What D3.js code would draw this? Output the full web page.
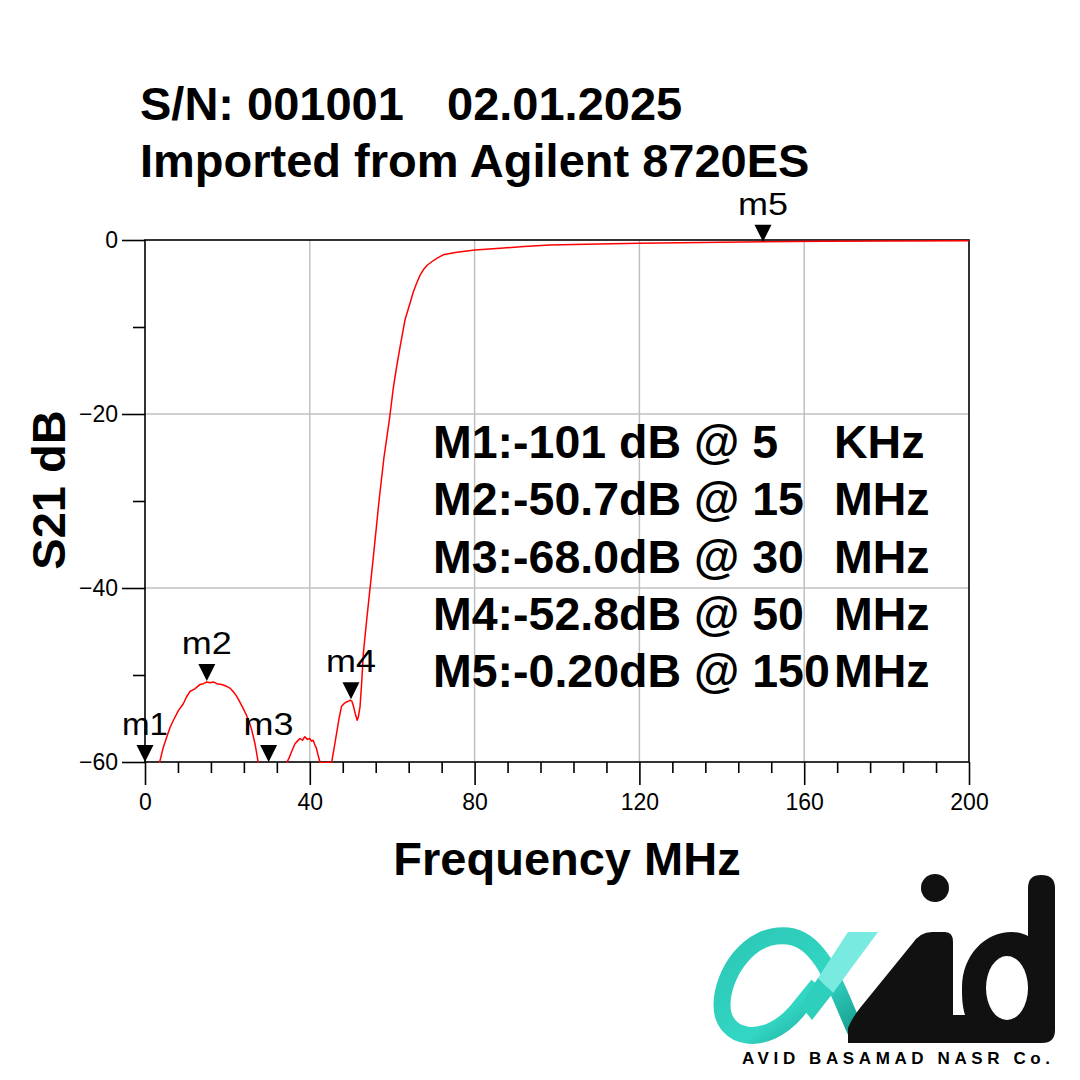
<!DOCTYPE html>
<html>
<head>
<meta charset="utf-8">
<script src="https://cdn.jsdelivr.net/npm/d3@7"></script>
<style>
  html, body { margin: 0; padding: 0; background: #fff; }
  svg { display: block; }
  text { font-family: "Liberation Sans", Arial, sans-serif; fill: #000; }
</style>
</head>
<body>
<svg id="chart" width="1080" height="1080"></svg>
<script>
// ---------- data ----------
const titleLine1 = ["S/N: 001001", "02.01.2025"];
const titleLine2 = "Imported from Agilent 8720ES";
const xLabel = "Frequency MHz";
const yLabel = "S21 dB";

const xMajorTicks = [0, 40, 80, 120, 160, 200];
const xMinorTicks = [8, 16, 24, 32, 48, 56, 64, 72, 88, 96, 104, 112, 128, 136, 144, 152, 168, 176, 184, 192];
const yMajorTicks = [0, -20, -40, -60];
const yMinorTicks = [-10, -30, -50];

const freqMHz = [0.005, 1, 2, 3, 3.5, 4.4, 5.3, 6.1, 6.9, 8.1, 9.3, 10.1, 10.9, 12.1, 13.3, 14.2, 15.0, 15.8, 16.6, 17.4,
  18.6, 19.8, 20.6, 21.4, 22.2, 23.0, 23.8, 24.6, 25.3, 25.9, 26.7, 27.5, 28.5, 30, 32, 33.5, 34.4, 35.0, 35.6, 36.4,
  37.0, 37.6, 38.2, 38.8, 39.4, 40.0, 40.4, 40.8, 41.2, 41.6, 42.0, 42.5, 43.5, 44.5, 45.3, 45.9, 46.5, 47.1, 47.7, 48.3,
  48.9, 49.4, 49.8, 50.2, 50.6, 51.0, 51.5, 51.8, 52.2, 52.6, 53.0, 53.8, 55.3, 56.8, 58.0, 59.3, 60.3, 61.1, 61.9, 63.1,
  64.3, 65.1, 65.9, 66.7, 67.6, 68.5, 69.6, 71.0, 72.4, 74.0, 75.7, 80.1, 86.2, 92, 98.3, 110, 120, 135, 150, 165, 180, 200];
const s21dB = [-101, -85, -72, -63, -60.1, -58.4, -57.1, -56.0, -55.2, -54.1, -53.3, -52.5, -51.9, -51.6, -51.1, -51.0, -50.8, -50.9, -50.8, -51.0,
  -51.1, -51.3, -51.5, -51.9, -52.4, -53.1, -53.8, -54.6, -55.4, -56.3, -57.9, -60.1, -63, -68, -65, -62, -60.1, -59.5, -58.8, -57.9,
  -57.6, -57.3, -57.5, -57.1, -57.4, -57.3, -57.6, -57.5, -58.0, -58.4, -59.2, -60.05, -60.05, -60.05, -60.05, -58.4, -56.7, -55.0, -53.6, -53.3,
  -53.1, -53.0, -52.9, -53.0, -53.6, -54.4, -55.2, -54.8, -53.6, -50.8, -47.5, -43.7, -37, -30, -25, -20.7, -16.9, -14.5, -12.3, -9.2,
  -7.3, -6.0, -5.0, -4.1, -3.4, -2.9, -2.5, -2.05, -1.7, -1.55, -1.4, -1.15, -0.95, -0.75, -0.57, -0.45, -0.38, -0.3, -0.2, -0.15, -0.12, -0.1];

const markerNames = ["m1", "m2", "m3", "m4", "m5"];
const markerFreq = [0.005, 15, 30, 50, 150];
const markerDB = [-101, -50.7, -68.0, -52.8, -0.20];

const noteLabels = ["M1:-101 dB @ 5", "M2:-50.7dB @ 15", "M3:-68.0dB @ 30", "M4:-52.8dB @ 50", "M5:-0.20dB @ 150"];
const noteUnits = ["KHz", "MHz", "MHz", "MHz", "MHz"];

const logoText = "AVID BASAMAD NASR Co.";

// ---------- layout ----------
const svg = d3.select("#chart");
const L = 145, R = 969, T = 240, B = 762;
const x = d3.scaleLinear().domain([0, 200]).range([L, R]);
const y = d3.scaleLinear().domain([-60, 0]).range([B, T]);
const FONT = "'Liberation Sans', Arial, sans-serif";

// grid
const grid = svg.append("g");
grid.selectAll("line.vg").data([40, 80, 120, 160]).join("line")
  .attr("x1", d => x(d)).attr("x2", d => x(d)).attr("y1", T).attr("y2", B)
  .attr("stroke", "#c0c0c0").attr("stroke-width", 1.5);
grid.selectAll("line.hg").data([-20, -40]).join("line")
  .attr("x1", L).attr("x2", R).attr("y1", d => y(d)).attr("y2", d => y(d))
  .attr("stroke", "#c0c0c0").attr("stroke-width", 1.5);

// axes
function styleAxis(g) {
  g.select(".domain").remove();
  g.selectAll(".tick line").attr("stroke", "#000").attr("stroke-width", 1.6);
  g.selectAll(".tick text").attr("font-family", FONT).attr("font-size", 23).attr("fill", "#000");
}
svg.append("g").attr("transform", `translate(0,${B})`)
  .call(d3.axisBottom(x).tickValues(xMajorTicks).tickSize(23).tickPadding(9).tickFormat(d3.format("d")))
  .call(styleAxis);
svg.append("g").attr("transform", `translate(0,${B})`)
  .call(d3.axisBottom(x).tickValues(xMinorTicks).tickSize(11).tickFormat(""))
  .call(styleAxis);
svg.append("g").attr("transform", `translate(${L},0)`)
  .call(d3.axisLeft(y).tickValues(yMajorTicks).tickSize(23).tickPadding(4).tickFormat(d3.format("d")))
  .call(styleAxis);
svg.append("g").attr("transform", `translate(${L},0)`)
  .call(d3.axisLeft(y).tickValues(yMinorTicks).tickSize(12).tickFormat(""))
  .call(styleAxis);

// frame
const frame = svg.append("g").attr("stroke", "#000").attr("stroke-width", 1.6).attr("fill", "none");
frame.append("rect").attr("x", L).attr("y", T).attr("width", R - L).attr("height", B - T);

// trace
svg.append("clipPath").attr("id", "plotclip").append("rect")
  .attr("x", L).attr("y", T - 2).attr("width", R - L).attr("height", B - T + 3);
const pts = freqMHz.map((f, i) => [f, s21dB[i]]);
svg.append("path").datum(pts)
  .attr("clip-path", "url(#plotclip)")
  .attr("fill", "none").attr("stroke", "#ff0000").attr("stroke-width", 1.5)
  .attr("stroke-linejoin", "round")
  .attr("d", d3.line().x(d => x(d[0])).y(d => y(d[1])));

// markers
const mk = svg.append("g");
markerNames.forEach((name, i) => {
  const px = x(markerFreq[i]);
  const py = y(Math.max(-60, markerDB[i]));
  mk.append("path")
    .attr("d", `M${px},${py} L${px - 8.5},${py - 17} L${px + 8.5},${py - 17} Z`)
    .attr("fill", "#000");
  mk.append("text").attr("x", px).attr("y", py - 27)
    .attr("text-anchor", "middle").attr("font-size", 32)
    .attr("textLength", name === "m1" ? 46 : 50).attr("lengthAdjust", "spacingAndGlyphs")
    .text(name);
});

// annotation block
const notes = svg.append("g").attr("font-weight", "bold").attr("font-size", 46.5);
noteLabels.forEach((t, i) => {
  const by = 458 + i * 57.3;
  notes.append("text").attr("x", 433).attr("y", by).text(t);
  notes.append("text").attr("x", 834).attr("y", by).text(noteUnits[i]);
});

// titles
const tg = svg.append("g").attr("font-weight", "bold").attr("font-size", 47);
tg.append("text").attr("x", 140).attr("y", 120).text(titleLine1[0]);
tg.append("text").attr("x", 447).attr("y", 120).text(titleLine1[1]);
tg.append("text").attr("x", 140).attr("y", 177).text(titleLine2);

// axis labels
svg.append("text").attr("x", 567).attr("y", 875).attr("text-anchor", "middle")
  .attr("font-weight", "bold").attr("font-size", 47).text(xLabel);
svg.append("text").attr("transform", "translate(65,490) rotate(-90)").attr("text-anchor", "middle")
  .attr("font-weight", "bold").attr("font-size", 47).text(yLabel);

// ---------- logo ----------
const logo = svg.append("g");
const defs = svg.append("defs");
const grad = defs.append("linearGradient").attr("id", "tealg")
  .attr("x1", "0").attr("y1", "0").attr("x2", "1").attr("y2", "1");
grad.append("stop").attr("offset", "0").attr("stop-color", "#2cc7b5");
grad.append("stop").attr("offset", "0.6").attr("stop-color", "#33d6c4");
grad.append("stop").attr("offset", "1").attr("stop-color", "#14978a");

// teal alpha loop
logo.append("path")
  .attr("d", "M858,1036 C840,1000 825,940 788,936 C748,932 722,975 722,1005 C722,1040 765,1048 796,1012 L818,985")
  .attr("fill", "none").attr("stroke", "url(#tealg)").attr("stroke-width", 17).attr("stroke-linecap", "butt");
// light teal upper right stroke
logo.append("path")
  .attr("d", "M848,932 L878,932 L833,993 L818,978 Z")
  .attr("fill", "#78eadf");
logo.append("path")
  .attr("d", "M818,978 L833,993 L812,1020 L800,1005 Z")
  .attr("fill", "#2fcfbd");
// black shapes: v-stroke + i
logo.append("path")
  .attr("d", "M848,1043 L848,1028 Q852,1018 860,1008 L912,944 Q920,932 932,932 L945,932 Q953,932 953,942 L953,1043 Z")
  .attr("fill", "#111");
// i dot
logo.append("circle").attr("cx", 935).attr("cy", 888).attr("r", 14).attr("fill", "#111");
// d bowl + stem
logo.append("path")
  .attr("d", "M1028,888 Q1028,875 1041,875 Q1055,875 1055,888 L1055,1030 Q1055,1043 1042,1043 L912,1043 Q900,1043 900,1032 L900,1015 L965,1015 C962,1005 962,995 962,988 C962,955 985,932 1012,932 C1018,932 1024,934 1028,936 Z")
  .attr("fill", "#111");
logo.append("ellipse").attr("cx", 1007).attr("cy", 988).attr("rx", 21).attr("ry", 32).attr("fill", "#fff");
logo.append("text").attr("x", 742).attr("y", 1064)
  .attr("font-weight", "bold").attr("font-size", 17)
  .attr("textLength", 308).attr("lengthAdjust", "spacing")
  .attr("fill", "#111").text(logoText);
</script>
</body>
</html>
